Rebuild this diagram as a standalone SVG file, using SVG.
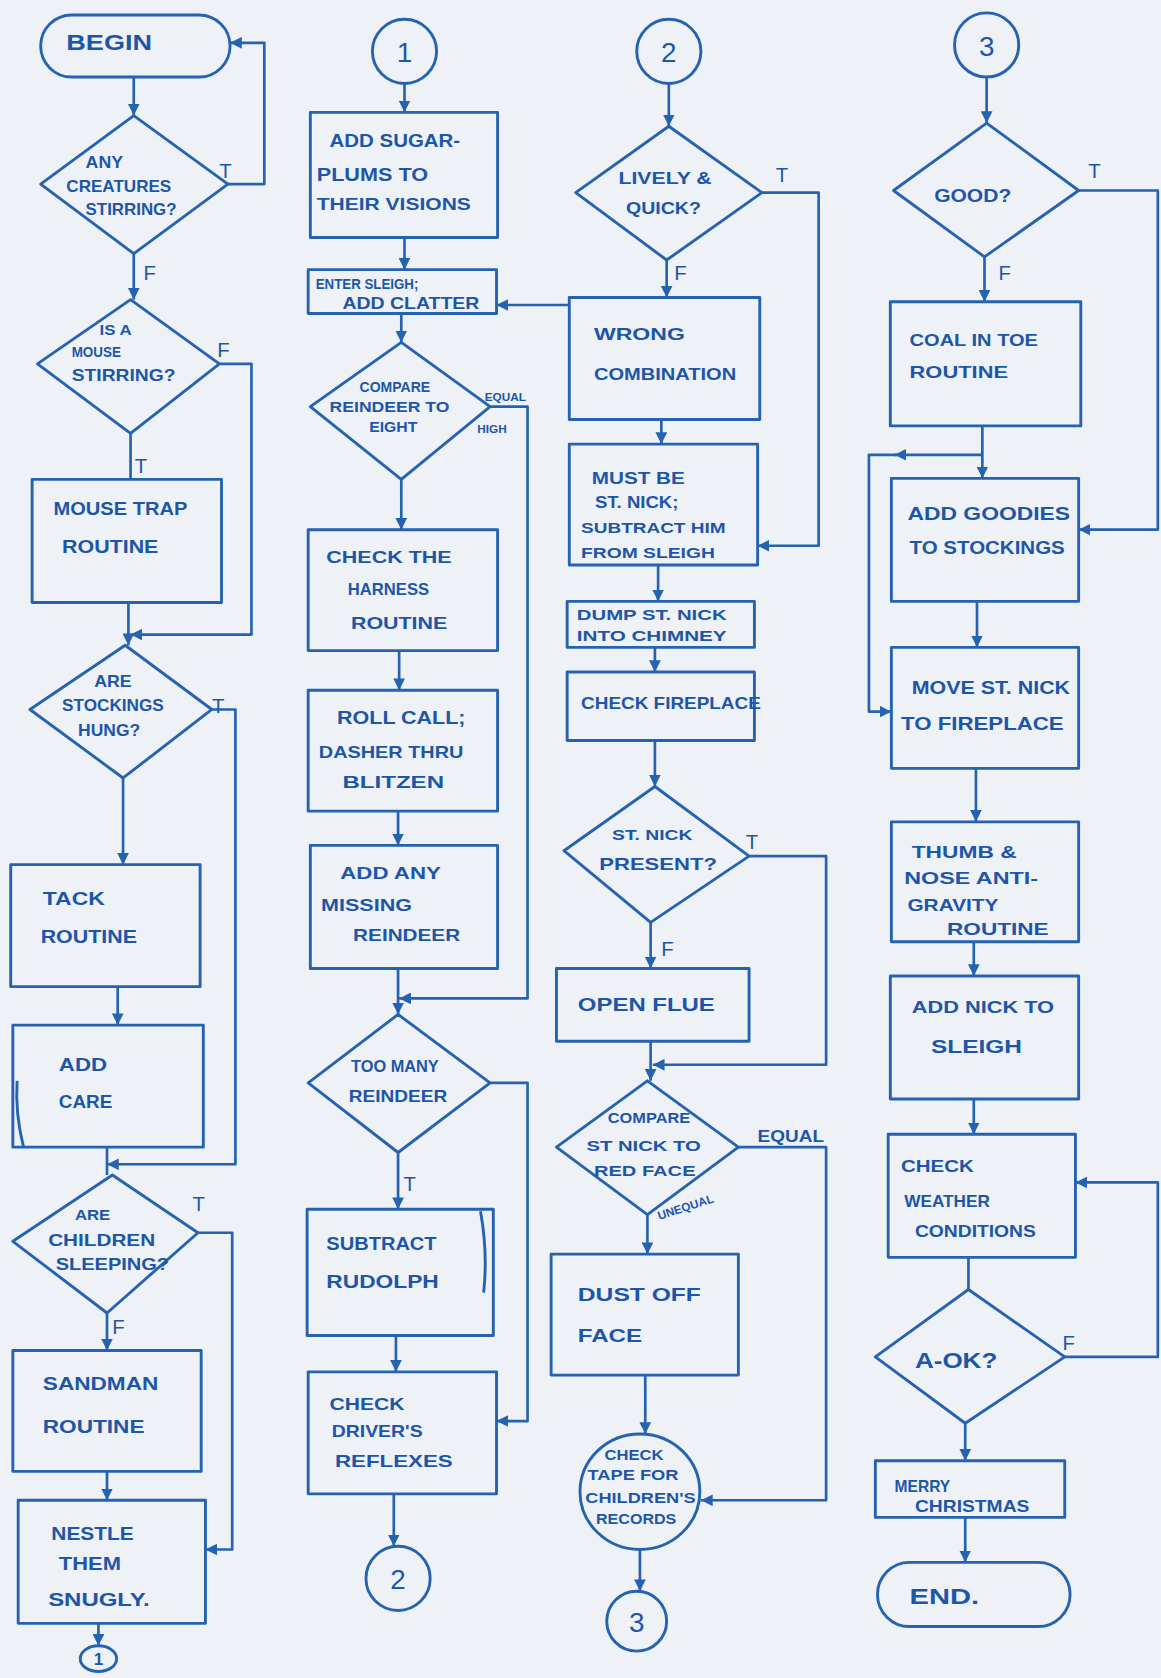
<svg xmlns="http://www.w3.org/2000/svg" width="1161" height="1678" viewBox="0 0 1161 1678">
<style>
.bg{fill:#eef1f6}
.n{fill:none;stroke:#2563b0;stroke-width:2.7;stroke-linejoin:round}
.c{fill:none;stroke:#2563b0;stroke-width:2.5;stroke-linejoin:round}
text{font-family:"Liberation Sans",Arial,sans-serif;fill:#1d56a8;font-weight:bold}
.b{font-size:20px}
.t{font-size:18px}
.s{font-size:16px}
.xs{font-size:13px}
.l{font-size:19px;font-weight:normal}
.lb{font-size:11px}
.num{font-size:26px;font-weight:normal}
</style>
<defs>
<marker id="ah" viewBox="0 0 10 10" refX="10" refY="5" markerWidth="11" markerHeight="11" markerUnits="userSpaceOnUse" orient="auto"><path d="M0,0 L10,5 L0,10 z" fill="#2563b0"/></marker>
</defs>
<rect class="bg" x="0" y="0" width="1161" height="1678"/>
<g transform="scale(1.0701)">
<g id="connectors">
<path class="c" marker-end="url(#ah)" d="M125,72 V108"/>
<path class="c" marker-end="url(#ah)" d="M213,172 H247 V40 H215"/>
<path class="c" marker-end="url(#ah)" d="M125,237 V280"/>
<path class="c" marker-end="url(#ah)" d="M205,340 H235 V593 H122"/>
<path class="c" d="M122,405 V448"/>
<path class="c" marker-end="url(#ah)" d="M120,563 V603"/>
<path class="c" marker-end="url(#ah)" d="M198,663 H220 V1088 H100"/>
<path class="c" marker-end="url(#ah)" d="M115,727 V808"/>
<path class="c" marker-end="url(#ah)" d="M110,922 V958"/>
<path class="c" d="M100,1072 V1098"/>
<path class="c" marker-end="url(#ah)" d="M185,1152 H217 V1448 H192"/>
<path class="c" marker-end="url(#ah)" d="M100,1227 V1262"/>
<path class="c" marker-end="url(#ah)" d="M100,1375 V1402"/>
<path class="c" marker-end="url(#ah)" d="M92,1517 V1538"/>

<path class="c" marker-end="url(#ah)" d="M378,78 V105"/>
<path class="c" marker-end="url(#ah)" d="M378,222 V252"/>
<path class="c" marker-end="url(#ah)" d="M532,285 H464"/>
<path class="c" marker-end="url(#ah)" d="M375,293 V320"/>
<path class="c" marker-end="url(#ah)" d="M458,380 H493 V933 H373"/>
<path class="c" marker-end="url(#ah)" d="M375,448 V495"/>
<path class="c" marker-end="url(#ah)" d="M373,608 V645"/>
<path class="c" marker-end="url(#ah)" d="M372,758 V790"/>
<path class="c" marker-end="url(#ah)" d="M372,905 V948"/>
<path class="c" marker-end="url(#ah)" d="M458,1012 H493 V1328 H464"/>
<path class="c" marker-end="url(#ah)" d="M372,1077 V1130"/>
<path class="c" marker-end="url(#ah)" d="M370,1248 V1282"/>
<path class="c" marker-end="url(#ah)" d="M368,1396 V1445"/>

<path class="c" marker-end="url(#ah)" d="M625,78 V118"/>
<path class="c" marker-end="url(#ah)" d="M712,180 H765 V510 H708"/>
<path class="c" marker-end="url(#ah)" d="M623,243 V278"/>
<path class="c" marker-end="url(#ah)" d="M618,392 V415"/>
<path class="c" marker-end="url(#ah)" d="M615,528 V562"/>
<path class="c" marker-end="url(#ah)" d="M612,605 V628"/>
<path class="c" marker-end="url(#ah)" d="M612,692 V735"/>
<path class="c" marker-end="url(#ah)" d="M700,800 H772 V995 H610"/>
<path class="c" marker-end="url(#ah)" d="M608,862 V905"/>
<path class="c" marker-end="url(#ah)" d="M608,973 V1010"/>
<path class="c" marker-end="url(#ah)" d="M690,1072 H772 V1402 H655"/>
<path class="c" marker-end="url(#ah)" d="M605,1135 V1172"/>
<path class="c" marker-end="url(#ah)" d="M603,1285 V1340"/>
<path class="c" marker-end="url(#ah)" d="M598,1448 V1487"/>

<path class="c" marker-end="url(#ah)" d="M922,72 V115"/>
<path class="c" marker-end="url(#ah)" d="M1008,178 H1082 V495 H1008"/>
<path class="c" marker-end="url(#ah)" d="M920,240 V282"/>
<path class="c" marker-end="url(#ah)" d="M918,398 V447"/>
<path class="c" marker-end="url(#ah)" d="M918,425 H836"/>
<path class="c" marker-end="url(#ah)" d="M838,425 H812 V665 H833"/>
<path class="c" marker-end="url(#ah)" d="M913,562 V605"/>
<path class="c" marker-end="url(#ah)" d="M912,718 V768"/>
<path class="c" marker-end="url(#ah)" d="M910,880 V912"/>
<path class="c" marker-end="url(#ah)" d="M910,1027 V1060"/>
<path class="c" d="M905,1175 V1205"/>
<path class="c" marker-end="url(#ah)" d="M995,1268 H1082 V1105 H1005"/>
<path class="c" marker-end="url(#ah)" d="M902,1330 V1365"/>
<path class="c" marker-end="url(#ah)" d="M902,1418 V1460"/>

<text class="l" x="205" y="166">T</text>
<text class="l" x="134" y="262">F</text>
<text class="l" x="203" y="334">F</text>
<text class="l" x="126" y="442">T</text>
<text class="l" x="198" y="666">T</text>
<text class="l" x="180" y="1132">T</text>
<text class="l" x="105" y="1247">F</text>
<text class="lb" x="453" y="375">EQUAL</text>
<text class="lb" x="446" y="405">HIGH</text>
<text class="l" x="377" y="1113">T</text>
<text class="l" x="725" y="170">T</text>
<text class="l" x="630" y="262">F</text>
<text class="l" x="697" y="793">T</text>
<text class="l" x="618" y="893">F</text>
<text class="s" x="708" y="1067" textLength="62" lengthAdjust="spacingAndGlyphs">EQUAL</text>
<text class="lb" x="616" y="1140" transform="rotate(-18 616 1140)">UNEQUAL</text>
<text class="l" x="1017" y="166">T</text>
<text class="l" x="933" y="262">F</text>
<text class="l" x="993" y="1262">F</text>
</g>

<g id="begin"><rect class="n" x="38" y="14" width="177" height="58" rx="29"/><text class="b" x="62" y="47" textLength="80" lengthAdjust="spacingAndGlyphs">BEGIN</text></g>
<g id="creatures"><path class="n" d="M125,108 L213,172 L125,237 L38,172 Z"/><text class="s" x="80" y="157" textLength="35" lengthAdjust="spacingAndGlyphs">ANY</text><text class="s" x="62" y="179" textLength="98" lengthAdjust="spacingAndGlyphs">CREATURES</text><text class="s" x="80" y="201" textLength="85" lengthAdjust="spacingAndGlyphs">STIRRING?</text></g>
<g id="mouse"><path class="n" d="M122,280 L205,340 L122,405 L35,340 Z"/><text class="xs" x="93" y="313" textLength="30" lengthAdjust="spacingAndGlyphs">IS A</text><text class="xs" x="67" y="334" textLength="46" lengthAdjust="spacingAndGlyphs">MOUSE</text><text class="s" x="67" y="356" textLength="97" lengthAdjust="spacingAndGlyphs">STIRRING?</text></g>
<g id="mousetrap"><rect class="n" x="30" y="448" width="177" height="115"/><text class="t" x="50" y="481" textLength="125" lengthAdjust="spacingAndGlyphs">MOUSE TRAP</text><text class="t" x="58" y="517" textLength="90" lengthAdjust="spacingAndGlyphs">ROUTINE</text></g>
<g id="stockings"><path class="n" d="M117,603 L198,663 L115,727 L28,663 Z"/><text class="s" x="88" y="642" textLength="35" lengthAdjust="spacingAndGlyphs">ARE</text><text class="s" x="58" y="664" textLength="95" lengthAdjust="spacingAndGlyphs">STOCKINGS</text><text class="s" x="73" y="688" textLength="58" lengthAdjust="spacingAndGlyphs">HUNG?</text></g>
<g id="tack"><rect class="n" x="10" y="808" width="177" height="114"/><text class="t" x="40" y="846" textLength="58" lengthAdjust="spacingAndGlyphs">TACK</text><text class="t" x="38" y="881" textLength="90" lengthAdjust="spacingAndGlyphs">ROUTINE</text></g>
<g id="addcare"><path class="n" d="M12,958 H190 V1072 H12 Z"/><path class="n" d="M22,1072 Q14,1040 16,1010"/><text class="t" x="55" y="1001" textLength="45" lengthAdjust="spacingAndGlyphs">ADD</text><text class="t" x="55" y="1035" textLength="50" lengthAdjust="spacingAndGlyphs">CARE</text></g>
<g id="children"><path class="n" d="M105,1098 L185,1152 L100,1227 L12,1160 Z"/><text class="xs" x="70" y="1140" textLength="33" lengthAdjust="spacingAndGlyphs">ARE</text><text class="s" x="45" y="1164" textLength="100" lengthAdjust="spacingAndGlyphs">CHILDREN</text><text class="s" x="52" y="1187" textLength="106" lengthAdjust="spacingAndGlyphs">SLEEPING?</text></g>
<g id="sandman"><rect class="n" x="12" y="1262" width="176" height="113"/><text class="t" x="40" y="1299" textLength="108" lengthAdjust="spacingAndGlyphs">SANDMAN</text><text class="t" x="40" y="1339" textLength="95" lengthAdjust="spacingAndGlyphs">ROUTINE</text></g>
<g id="nestle"><rect class="n" x="17" y="1402" width="175" height="115"/><text class="t" x="48" y="1439" textLength="77" lengthAdjust="spacingAndGlyphs">NESTLE</text><text class="t" x="55" y="1467" textLength="58" lengthAdjust="spacingAndGlyphs">THEM</text><text class="t" x="45" y="1501" textLength="95" lengthAdjust="spacingAndGlyphs">SNUGLY.</text></g>
<g id="conn1a"><ellipse class="n" cx="92" cy="1550" rx="17" ry="12"/><text class="s" x="92" y="1556" text-anchor="middle">1</text></g>

<g id="conn1b"><circle class="n" cx="378" cy="48" r="30"/><text class="num" x="378" y="58" text-anchor="middle">1</text></g>
<g id="sugarplums"><rect class="n" x="290" y="105" width="175" height="117"/><text class="t" x="308" y="137" textLength="122" lengthAdjust="spacingAndGlyphs">ADD SUGAR-</text><text class="t" x="296" y="169" textLength="104" lengthAdjust="spacingAndGlyphs">PLUMS  TO</text><text class="s" x="296" y="196" textLength="144" lengthAdjust="spacingAndGlyphs">THEIR VISIONS</text></g>
<g id="entersleigh"><rect class="n" x="288" y="252" width="176" height="41"/><text class="xs" x="295" y="270" textLength="96" lengthAdjust="spacingAndGlyphs">ENTER SLEIGH;</text><text class="s" x="320" y="289" textLength="128" lengthAdjust="spacingAndGlyphs">ADD CLATTER</text></g>
<g id="compare8"><path class="n" d="M375,320 L458,380 L375,448 L290,380 Z"/><text class="xs" x="336" y="366" textLength="66" lengthAdjust="spacingAndGlyphs">COMPARE</text><text class="xs" x="308" y="385" textLength="112" lengthAdjust="spacingAndGlyphs">REINDEER TO</text><text class="xs" x="345" y="404" textLength="45" lengthAdjust="spacingAndGlyphs">EIGHT</text></g>
<g id="harness"><rect class="n" x="288" y="495" width="177" height="113"/><text class="s" x="305" y="526" textLength="117" lengthAdjust="spacingAndGlyphs">CHECK THE</text><text class="s" x="325" y="556" textLength="76" lengthAdjust="spacingAndGlyphs">HARNESS</text><text class="s" x="328" y="588" textLength="90" lengthAdjust="spacingAndGlyphs">ROUTINE</text></g>
<g id="rollcall"><rect class="n" x="288" y="645" width="177" height="113"/><text class="t" x="315" y="677" textLength="120" lengthAdjust="spacingAndGlyphs">ROLL CALL;</text><text class="s" x="298" y="708" textLength="135" lengthAdjust="spacingAndGlyphs">DASHER THRU</text><text class="s" x="320" y="736" textLength="95" lengthAdjust="spacingAndGlyphs">BLITZEN</text></g>
<g id="missing"><rect class="n" x="290" y="790" width="175" height="115"/><text class="s" x="318" y="821" textLength="94" lengthAdjust="spacingAndGlyphs">ADD ANY</text><text class="s" x="300" y="851" textLength="85" lengthAdjust="spacingAndGlyphs">MISSING</text><text class="s" x="330" y="879" textLength="100" lengthAdjust="spacingAndGlyphs">REINDEER</text></g>
<g id="toomany"><path class="n" d="M372,948 L458,1012 L372,1077 L288,1012 Z"/><text class="s" x="328" y="1002" textLength="82" lengthAdjust="spacingAndGlyphs">TOO MANY</text><text class="s" x="326" y="1030" textLength="92" lengthAdjust="spacingAndGlyphs">REINDEER</text></g>
<g id="rudolph"><rect class="n" x="287" y="1130" width="174" height="118"/><path class="n" d="M449,1132 Q456,1170 452,1208"/><text class="t" x="305" y="1168" textLength="103" lengthAdjust="spacingAndGlyphs">SUBTRACT</text><text class="t" x="305" y="1204" textLength="105" lengthAdjust="spacingAndGlyphs">RUDOLPH</text></g>
<g id="reflexes"><rect class="n" x="288" y="1282" width="176" height="114"/><text class="s" x="308" y="1318" textLength="70" lengthAdjust="spacingAndGlyphs">CHECK</text><text class="s" x="310" y="1343" textLength="85" lengthAdjust="spacingAndGlyphs">DRIVER'S</text><text class="s" x="313" y="1371" textLength="110" lengthAdjust="spacingAndGlyphs">REFLEXES</text></g>
<g id="conn2a"><circle class="n" cx="372" cy="1475" r="30"/><text class="num" x="372" y="1485" text-anchor="middle">2</text></g>

<g id="conn2b"><circle class="n" cx="625" cy="48" r="30"/><text class="num" x="625" y="58" text-anchor="middle">2</text></g>
<g id="lively"><path class="n" d="M625,118 L712,180 L623,243 L538,180 Z"/><text class="s" x="578" y="172" textLength="87" lengthAdjust="spacingAndGlyphs">LIVELY &amp;</text><text class="s" x="585" y="200" textLength="70" lengthAdjust="spacingAndGlyphs">QUICK?</text></g>
<g id="wrong"><rect class="n" x="532" y="278" width="178" height="114"/><text class="s" x="555" y="318" textLength="85" lengthAdjust="spacingAndGlyphs">WRONG</text><text class="s" x="555" y="355" textLength="133" lengthAdjust="spacingAndGlyphs">COMBINATION</text></g>
<g id="mustbe"><rect class="n" x="532" y="415" width="176" height="113"/><text class="s" x="553" y="452" textLength="87" lengthAdjust="spacingAndGlyphs">MUST BE</text><text class="s" x="556" y="475" textLength="78" lengthAdjust="spacingAndGlyphs">ST. NICK;</text><text class="xs" x="543" y="498" textLength="135" lengthAdjust="spacingAndGlyphs">SUBTRACT HIM</text><text class="xs" x="543" y="521" textLength="125" lengthAdjust="spacingAndGlyphs">FROM SLEIGH</text></g>
<g id="dump"><rect class="n" x="530" y="562" width="175" height="43"/><text class="xs" x="539" y="579" textLength="140" lengthAdjust="spacingAndGlyphs">DUMP ST. NICK</text><text class="xs" x="539" y="599" textLength="140" lengthAdjust="spacingAndGlyphs">INTO CHIMNEY</text></g>
<g id="fireplace"><rect class="n" x="530" y="628" width="175" height="64"/><text class="s" x="543" y="663" textLength="168" lengthAdjust="spacingAndGlyphs">CHECK FIREPLACE</text></g>
<g id="present"><path class="n" d="M612,735 L700,800 L608,862 L527,795 Z"/><text class="xs" x="572" y="785" textLength="75" lengthAdjust="spacingAndGlyphs">ST. NICK</text><text class="s" x="560" y="813" textLength="110" lengthAdjust="spacingAndGlyphs">PRESENT?</text></g>
<g id="flue"><rect class="n" x="520" y="905" width="180" height="68"/><text class="t" x="540" y="945" textLength="128" lengthAdjust="spacingAndGlyphs">OPEN FLUE</text></g>
<g id="redface"><path class="n" d="M605,1010 L690,1072 L605,1135 L520,1072 Z"/><text class="xs" x="568" y="1049" textLength="77" lengthAdjust="spacingAndGlyphs">COMPARE</text><text class="xs" x="548" y="1076" textLength="107" lengthAdjust="spacingAndGlyphs">ST NICK TO</text><text class="xs" x="555" y="1099" textLength="95" lengthAdjust="spacingAndGlyphs">RED FACE</text></g>
<g id="dust"><rect class="n" x="515" y="1172" width="175" height="113"/><text class="t" x="540" y="1216" textLength="115" lengthAdjust="spacingAndGlyphs">DUST OFF</text><text class="t" x="540" y="1254" textLength="60" lengthAdjust="spacingAndGlyphs">FACE</text></g>
<g id="tape"><ellipse class="n" cx="598" cy="1394" rx="56" ry="54"/><text class="xs" x="565" y="1364" textLength="55" lengthAdjust="spacingAndGlyphs">CHECK</text><text class="xs" x="549" y="1383" textLength="85" lengthAdjust="spacingAndGlyphs">TAPE FOR</text><text class="xs" x="547" y="1405" textLength="103" lengthAdjust="spacingAndGlyphs">CHILDREN'S</text><text class="xs" x="557" y="1424" textLength="75" lengthAdjust="spacingAndGlyphs">RECORDS</text></g>
<g id="conn3a"><circle class="n" cx="595" cy="1515" r="28"/><text class="num" x="595" y="1525" text-anchor="middle">3</text></g>

<g id="conn3b"><circle class="n" cx="922" cy="42" r="30"/><text class="num" x="922" y="52" text-anchor="middle">3</text></g>
<g id="good"><path class="n" d="M922,115 L1008,178 L920,240 L835,178 Z"/><text class="t" x="873" y="189" textLength="72" lengthAdjust="spacingAndGlyphs">GOOD?</text></g>
<g id="coal"><rect class="n" x="832" y="282" width="178" height="116"/><text class="s" x="850" y="323" textLength="120" lengthAdjust="spacingAndGlyphs">COAL IN TOE</text><text class="s" x="850" y="353" textLength="92" lengthAdjust="spacingAndGlyphs">ROUTINE</text></g>
<g id="goodies"><rect class="n" x="833" y="447" width="175" height="115"/><text class="t" x="848" y="486" textLength="152" lengthAdjust="spacingAndGlyphs">ADD GOODIES</text><text class="t" x="850" y="518" textLength="145" lengthAdjust="spacingAndGlyphs">TO STOCKINGS</text></g>
<g id="movenick"><rect class="n" x="833" y="605" width="175" height="113"/><text class="t" x="852" y="649" textLength="148" lengthAdjust="spacingAndGlyphs">MOVE ST. NICK</text><text class="t" x="842" y="682" textLength="152" lengthAdjust="spacingAndGlyphs">TO FIREPLACE</text></g>
<g id="thumb"><rect class="n" x="833" y="768" width="175" height="112"/><text class="s" x="852" y="802" textLength="98" lengthAdjust="spacingAndGlyphs">THUMB &amp;</text><text class="s" x="845" y="826" textLength="125" lengthAdjust="spacingAndGlyphs">NOSE ANTI-</text><text class="s" x="848" y="851" textLength="85" lengthAdjust="spacingAndGlyphs">GRAVITY</text><text class="s" x="885" y="874" textLength="95" lengthAdjust="spacingAndGlyphs">ROUTINE</text></g>
<g id="addnick"><rect class="n" x="832" y="912" width="176" height="115"/><text class="s" x="852" y="947" textLength="133" lengthAdjust="spacingAndGlyphs">ADD NICK TO</text><text class="t" x="870" y="984" textLength="85" lengthAdjust="spacingAndGlyphs">SLEIGH</text></g>
<g id="weather"><rect class="n" x="830" y="1060" width="175" height="115"/><text class="s" x="842" y="1095" textLength="68" lengthAdjust="spacingAndGlyphs">CHECK</text><text class="s" x="845" y="1128" textLength="80" lengthAdjust="spacingAndGlyphs">WEATHER</text><text class="s" x="855" y="1156" textLength="113" lengthAdjust="spacingAndGlyphs">CONDITIONS</text></g>
<g id="aok"><path class="n" d="M905,1205 L995,1268 L902,1330 L818,1268 Z"/><text class="b" x="855" y="1278" textLength="77" lengthAdjust="spacingAndGlyphs">A-OK?</text></g>
<g id="merry"><rect class="n" x="818" y="1365" width="177" height="53"/><text class="s" x="836" y="1394" textLength="52" lengthAdjust="spacingAndGlyphs">MERRY</text><text class="s" x="855" y="1413" textLength="107" lengthAdjust="spacingAndGlyphs">CHRISTMAS</text></g>
<g id="end"><rect class="n" x="820" y="1460" width="180" height="60" rx="30"/><text class="b" x="850" y="1499" textLength="65" lengthAdjust="spacingAndGlyphs">END.</text></g>
</g>
</svg>
